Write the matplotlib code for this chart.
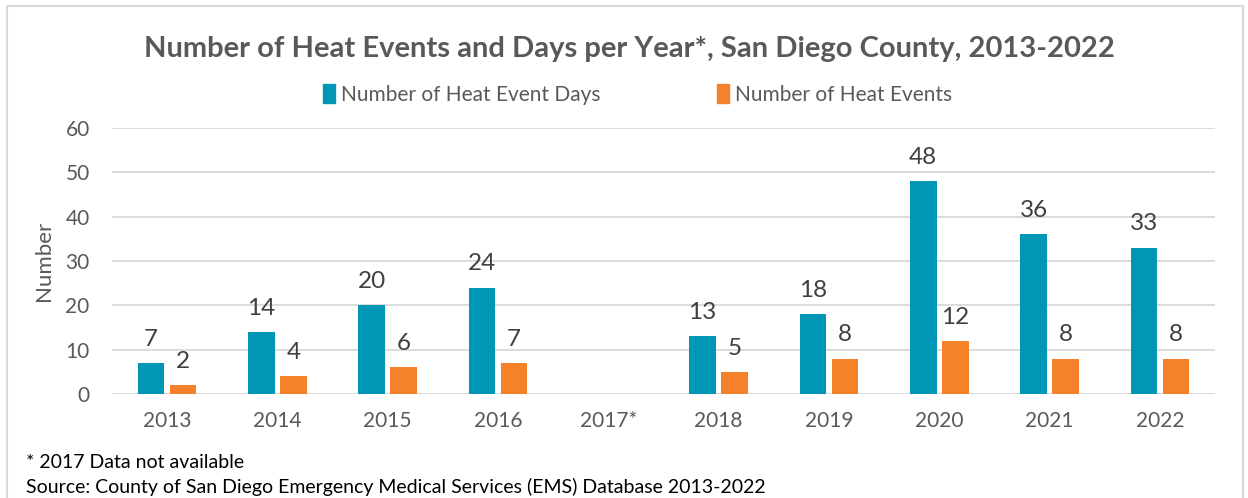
import matplotlib.pyplot as plt
import numpy as np
from matplotlib.patches import Rectangle

plt.rcParams['font.family'] = ['Lato', 'DejaVu Sans']

# data
years = ["2013", "2014", "2015", "2016", "2017*", "2018", "2019", "2020", "2021", "2022"]
event_days = [7, 14, 20, 24, None, 13, 18, 48, 36, 33]
events = [2, 4, 6, 7, None, 5, 8, 12, 8, 8]

BLUE = "#0096B6"
ORANGE = "#F5822A"
GREY = "#595959"

fig = plt.figure(figsize=(12.48, 4.98), dpi=100)
ax = fig.add_axes([0.0897, 0.2088, 0.8839, 0.5342])

x = np.arange(len(years))
w = 0.24
off = 0.145
for i in range(len(years)):
    if event_days[i] is None:
        continue
    ax.bar(x[i] - off, event_days[i], w, color=BLUE, zorder=3)
    ax.bar(x[i] + off, events[i], w, color=ORANGE, zorder=3)
    ax.text(x[i] - off, event_days[i] + 3.0, str(event_days[i]), ha='center', va='bottom',
            fontsize=17.5, color="#404040")
    ax.text(x[i] + off, events[i] + 3.0, str(events[i]), ha='center', va='bottom',
            fontsize=17.5, color="#404040")

ax.set_xlim(-0.5, len(years) - 0.5)
ax.set_ylim(0, 60)
ax.set_yticks(range(0, 61, 10))
ax.set_xticks(x)
ax.set_xticklabels(years)
ax.tick_params(axis='both', length=0, labelsize=15, labelcolor=GREY)
ax.tick_params(axis='x', pad=12)
ax.tick_params(axis='y', pad=16)
ax.grid(axis='y', color="#D9D9D9", linewidth=1.3, zorder=0)
for s in ax.spines.values():
    s.set_visible(False)
ax.set_ylabel("Number", fontsize=16, color=GREY, labelpad=8)

# legend
h1 = Rectangle((0, 0), 1, 1, color=BLUE)
h2 = Rectangle((0, 0), 1, 1, color=ORANGE)
fig.legend([h1, h2], ["Number of Heat Event Days", "Number of Heat Events"],
           loc='center', bbox_to_anchor=(0.511, 0.81), ncol=2, frameon=False,
           fontsize=15, labelcolor=GREY, handlelength=0.55, handleheight=1.0,
           handletextpad=0.3, columnspacing=5.6)

fig.text(0.504, 0.902, "Number of Heat Events and Days per Year*, San Diego County, 2013-2022",
         ha='center', va='center', fontsize=21, fontweight='bold', color=GREY)

fig.text(0.021, 0.072, "* 2017 Data not available", fontsize=14, color="#000000", va='center')
fig.text(0.021, 0.022, "Source: County of San Diego Emergency Medical Services (EMS) Database 2013-2022",
         fontsize=14, color="#000000", va='center')

# chart border
fig.patches.append(Rectangle((0.006, -0.01), 0.99, 0.998, transform=fig.transFigure,
                             fill=False, edgecolor="#D9D9D9", linewidth=1.5))

fig.savefig("out.png", dpi=100)
